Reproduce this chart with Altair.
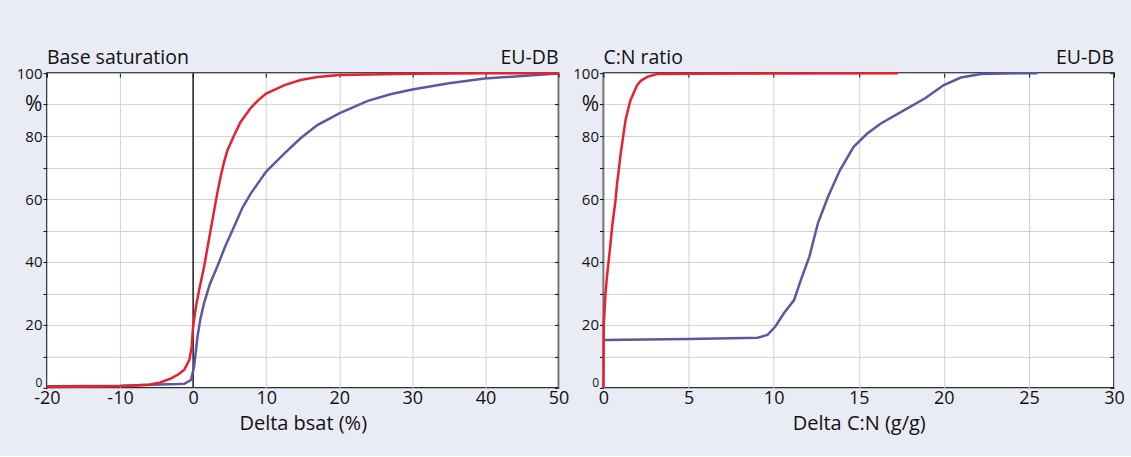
import altair as alt
import pandas as pd

# ---- data ----
bsat_red_x = [-20, -10, -6, -4.5, -3, -2, -1.2, -0.5, -0.2, 0, 0.4, 0.82, 1.5, 2.0, 2.64, 3.3, 3.8, 4.24, 4.7, 5.6, 6.5, 7.9, 9.0, 10, 12.5, 14.7, 17, 20, 30, 40, 50]
bsat_red_y = [0.3, 0.5, 1.0, 1.7, 3.0, 4.3, 5.8, 9.0, 13, 19.5, 26, 31, 38.5, 45, 53.3, 61.8, 67.5, 71.8, 75.5, 80.2, 84.5, 89.0, 91.6, 93.5, 96.2, 97.8, 98.8, 99.4, 99.8, 100, 100]

bsat_blue_x = [-20, -10, -5.8, -2, -1.2, -0.3, 0.14, 0.6, 1.0, 1.5, 2.3, 3.3, 4.4, 5.6, 6.7, 7.9, 10, 12.5, 14.7, 17, 20, 23.9, 27, 30, 35, 39.9, 45, 49, 50]
bsat_blue_y = [0.5, 0.7, 1.0, 1.2, 1.3, 2.5, 6.8, 16.3, 22, 26.9, 33, 38.5, 45, 51.2, 57, 61.8, 68.7, 74.5, 79.3, 83.5, 87.2, 91.2, 93.3, 94.8, 96.8, 98.3, 99.1, 99.7, 99.8]

cn_red_x = [0, 0.02, 0.12, 0.2, 0.31, 0.4, 0.51, 0.6, 0.71, 0.8, 0.9, 1.0, 1.1, 1.2, 1.3, 1.45, 1.59, 1.8, 1.98, 2.2, 2.57, 3.16, 5, 10, 17.3]
cn_red_y = [0, 20.5, 30, 35, 40.6, 45, 51.2, 55, 59.7, 65, 69.2, 74, 77.7, 81.5, 85.1, 88.5, 91.4, 94, 96.2, 97.6, 98.8, 99.7, 99.8, 99.9, 100]

cn_blue_x = [0, 5, 9.05, 9.63, 10.1, 10.6, 11.2, 11.6, 12.1, 12.6, 13.2, 13.9, 14.7, 15.5, 16.3, 17.7, 18.9, 20.0, 21.0, 22.2, 23.5, 25.5]
cn_blue_y = [15.2, 15.5, 15.9, 16.8, 19.5, 23.7, 27.9, 34.3, 41.7, 52.3, 60.8, 69.2, 76.6, 80.8, 84.0, 88.3, 92.0, 96.2, 98.6, 99.7, 99.9, 100]

panel_titles = ["Base saturation", "C:N ratio"]
panel_tag = "EU-DB"
x_titles = ["Delta bsat (%)", "Delta C:N (g/g)"]
x_domains = [[-20, 50], [0, 30]]
x_ticks = [list(range(-20, 51, 10)), list(range(0, 31, 5))]
y_ticks = list(range(0, 101, 10))

RED = "#E8212E"
BLUE = "#5E56A3"
FONT = "Open Sans"
GRID = "#D0D0D8"
BG = "#E9ECF4"
INK = "#111111"

W = [512, 511]
H = 315


def panel(i, red_x, red_y, blue_x, blue_y, zero_line):
    red = pd.DataFrame({"x": red_x, "y": red_y})
    blue = pd.DataFrame({"x": blue_x, "y": blue_y})
    xs = alt.Scale(domain=x_domains[i], nice=False, zero=False)
    ys = alt.Scale(domain=[0, 100], nice=False)

    main_axes = alt.Chart(blue).mark_line(color=BLUE, strokeWidth=2.5).encode(
        x=alt.X("x:Q", scale=xs, axis=alt.Axis(
            values=x_ticks[i], title=x_titles[i], grid=True, gridColor=GRID,
            domain=False, ticks=False, labelFontSize=18, labelFont=FONT,
            labelColor=INK, labelPadding=2, labelFlush=False,
            labelExpr="datum.value + ''",
            titleFont=FONT, titleFontSize=20,
            titleFontWeight="normal", titleColor=INK, titlePadding=6)),
        y=alt.Y("y:Q", scale=ys, axis=alt.Axis(
            values=y_ticks, title=None, grid=True, gridColor=GRID, domain=False,
            tickColor=INK, tickSize=4, labelFont=FONT, labelColor=INK,
            labelPadding=1, labelFlush=False,
            labelExpr="datum.value == 90 ? '%' : (datum.value % 20 == 0 ? datum.label : '')",
            labelOffset={"condition": {"test": "datum.value == 0", "value": -5}, "value": 0},
            labelFontSize={"expr": "datum.value == 90 ? 21 : (datum.value == 0 ? 12 : 15)"})),
    )

    inner_ticks = alt.Chart(blue).mark_point(opacity=0).encode(
        x=alt.X("x:Q", scale=xs, axis=alt.Axis(
            orient="top", values=x_ticks[i], offset=-4, domain=False, labels=False,
            grid=False, tickColor=INK, tickSize=4, title=None)),
        y=alt.Y("y:Q", scale=ys, axis=alt.Axis(
            orient="right", values=y_ticks, offset=-4, domain=False, labels=False,
            grid=False, tickColor=INK, tickSize=4, title=None)),
    )

    red_line = alt.Chart(red).mark_line(color=RED, strokeWidth=2.5).encode(
        x=alt.X("x:Q", scale=xs, axis=None),
        y=alt.Y("y:Q", scale=ys, axis=None),
    )

    label_df = pd.DataFrame({"t": [panel_titles[i]], "tag": [panel_tag]})
    title_txt = alt.Chart(label_df).mark_text(
        align="left", baseline="alphabetic", font=FONT, fontSize=19.5, color=INK
    ).encode(text="t:N", x=alt.value(0), y=alt.value(-9))
    tag_txt = alt.Chart(label_df).mark_text(
        align="right", baseline="alphabetic", font=FONT, fontSize=19.5, color=INK
    ).encode(text="tag:N", x=alt.value(W[i]), y=alt.value(-9))

    layers = [main_axes, inner_ticks]
    if zero_line:
        zl = pd.DataFrame({"x": [0], "y0": [0], "y1": [100]})
        rule = alt.Chart(zl).mark_rule(color="#000", strokeWidth=1.3).encode(
            x=alt.X("x:Q", scale=xs, axis=None),
            y=alt.Y("y0:Q", scale=ys, axis=None),
            y2="y1:Q",
        )
        layers = [rule] + layers
    layers += [red_line, title_txt, tag_txt]
    return alt.layer(*layers).resolve_axis(x="independent", y="independent").properties(
        width=W[i], height=H
    )


left = panel(0, bsat_red_x, bsat_red_y, bsat_blue_x, bsat_blue_y, True)
right = panel(1, cn_red_x, cn_red_y, cn_blue_x, cn_blue_y, False)

chart = alt.hconcat(left, right, spacing=45, bounds="flush").properties(
    background=BG,
    padding={"left": 15, "top": 47, "right": 5, "bottom": 21},
).configure_view(stroke=INK, strokeWidth=1.6, fill="white")

chart.save("out.html", embed_options={"renderer": "svg", "actions": False})
